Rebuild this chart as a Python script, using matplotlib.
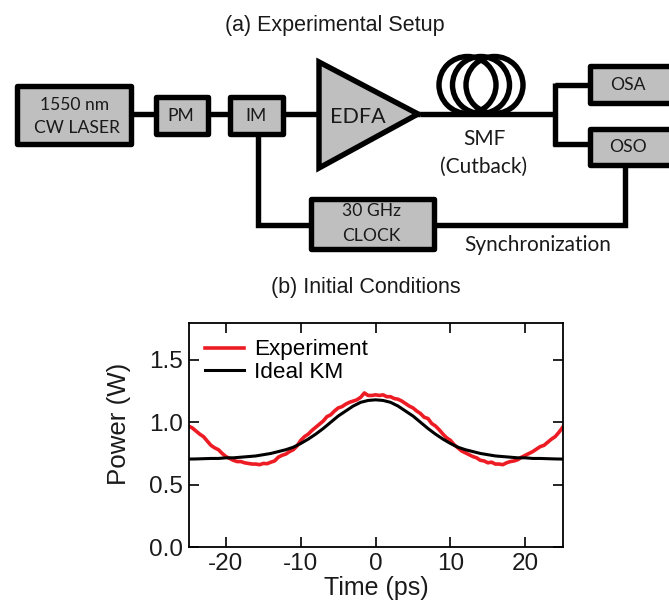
import matplotlib
matplotlib.use('Agg')
import matplotlib.pyplot as plt
from matplotlib.patches import Rectangle, Polygon, Circle

# (b) curves
t_exp = [-25 + 0.5 * i for i in range(101)]
p_exp = [0.97, 0.955, 0.93, 0.905, 0.885, 0.85, 0.815, 0.795, 0.78, 0.75,
         0.725, 0.71, 0.695, 0.685, 0.685, 0.675, 0.67, 0.665, 0.665, 0.66,
         0.67, 0.668, 0.68, 0.69, 0.72, 0.735, 0.745, 0.765, 0.78, 0.81,
         0.855, 0.885, 0.905, 0.935, 0.96, 0.985, 1.01, 1.045, 1.06, 1.09,
         1.115, 1.125, 1.145, 1.16, 1.17, 1.18, 1.2, 1.235, 1.215, 1.215,
         1.22,
         1.215, 1.22, 1.205, 1.205, 1.19, 1.185, 1.17, 1.15, 1.13, 1.115,
         1.09, 1.07, 1.04, 1.03, 0.99, 0.97, 0.94, 0.905, 0.875, 0.855,
         0.82, 0.795, 0.77, 0.755, 0.74, 0.725, 0.715, 0.695, 0.69, 0.675,
         0.68, 0.665, 0.665, 0.66, 0.675, 0.685, 0.69, 0.7, 0.72, 0.735,
         0.75, 0.765, 0.785, 0.805, 0.815, 0.84, 0.865, 0.885, 0.92, 0.96]
t_km = list(range(-25, 26))
p_km = [0.705, 0.706, 0.708, 0.71, 0.71, 0.715, 0.715, 0.72, 0.725, 0.73,
        0.74, 0.75, 0.765, 0.78, 0.80, 0.83, 0.865, 0.905, 0.95, 1.0,
        1.05, 1.09, 1.13, 1.16, 1.175,
        1.18,
        1.175, 1.16, 1.13, 1.09, 1.05, 1.0, 0.95, 0.905, 0.865, 0.83,
        0.80, 0.78, 0.765, 0.75, 0.74, 0.73, 0.725, 0.72, 0.715, 0.715,
        0.71, 0.71, 0.708, 0.706, 0.705]
x_ticks = [-20, -10, 0, 10, 20]
y_ticks = [0.0, 0.5, 1.0, 1.5]

W, H = 669, 600
sans = ['Liberation Sans', 'DejaVu Sans']
gray = '#bfbfbf'
ink = '#1a1a1a'

fig = plt.figure(figsize=(W / 100, H / 100), dpi=100)

# plot axes
ax = fig.add_axes([188.5 / W, 1 - 547 / H, 374.2 / W, 224.5 / H])
ax.plot(t_exp, p_exp, color='#ed1c24', lw=2.6, label='Experiment')
ax.plot(t_km, p_km, color='black', lw=2.2, label='Ideal KM')
ax.set_xlim(-25, 25)
ax.set_ylim(0, 1.8)
ax.set_xticks(x_ticks)
ax.set_xticklabels(['-20', '-10', '0', '10', '20'], family=sans, fontsize=17.5, color=ink)
ax.set_yticks(y_ticks)
ax.set_yticklabels(['0.0', '0.5', '1.0', '1.5'], family=sans, fontsize=17.5, color=ink)
ax.tick_params(direction='in', top=True, right=True, length=7, width=1.2)
ax.tick_params(axis='y', pad=4)
ax.tick_params(axis='x', pad=4)
for s in ax.spines.values():
    s.set_linewidth(1.3)
ax.legend(loc='upper left', bbox_to_anchor=(0.0, 1.0), frameon=False,
          prop={'family': sans, 'size': 16.2}, handlelength=1.7, handletextpad=0.45,
          labelspacing=0.05, borderpad=0.25, borderaxespad=0.5)

# setup diagram, drawn in pixel coordinates
d = fig.add_axes([0, 0, 1, 1], zorder=3)
d.set_xlim(0, W)
d.set_ylim(H, 0)
d.axis('off')
d.patch.set_alpha(0)

LW = 3.9

def wire(xs, ys):
    d.plot(xs, ys, color='black', lw=LW, solid_capstyle='butt', solid_joinstyle='miter', zorder=1)

def box(x0, y0, x1, y1):
    d.add_patch(Rectangle((x0 + 2.5, y0 + 2.5), x1 - x0 - 5, y1 - y0 - 5, fc=gray, ec='black', lw=LW,
                          joinstyle='round', zorder=2))

def label(x, y, s, size=12.6):
    d.text(x, y, s, ha='center', va='center', fontsize=size, family=['Lato', 'DejaVu Sans'], color=ink, zorder=4)

# wires first, boxes on top
wire([133, 420], [114, 114])
wire([420, 555], [114, 114])
wire([555, 590], [85, 85])
wire([555, 555], [83, 146])
wire([553, 590], [143.5, 143.5])
wire([258, 258, 310], [133, 225, 225])
wire([433, 625, 625], [225, 225, 165])

for cx in [467.5, 481, 494.5]:
    d.add_patch(Circle((cx, 85), 28.5, fc='none', ec='black', lw=LW, zorder=1))

box(14, 83, 133, 146)
box(153, 94, 210, 136)
box(227, 94, 285, 136)
box(308, 196, 436, 251)
box(587, 63, 680, 105)
box(587, 126, 680, 167)
d.add_patch(Polygon([[319, 62], [319, 168], [418, 114]], closed=True, fc=gray, ec='black', lw=LW,
                    joinstyle='miter', zorder=2))

label(75, 105, '1550 nm')
label(77, 128, 'CW LASER')
label(181, 116, 'PM')
label(256, 116, 'IM')
label(358, 117, 'EDFA', 15.5)
label(484, 139, 'SMF', 15)
label(484, 167, '(Cutback)', 15)
label(371, 211, '30 GHz')
label(371, 236, 'CLOCK')
label(628, 85, 'OSA')
label(628, 147, 'OSO')
label(538, 245, 'Synchronization', 15)

# titles and axis labels
d.text(335, 25, '(a) Experimental Setup', ha='center', va='center', fontsize=15.5, family=sans, color=ink)
d.text(366, 288, '(b) Initial Conditions', ha='center', va='center', fontsize=15.5, family=sans, color=ink)
d.text(376, 588.5, 'Time (ps)', ha='center', va='center', fontsize=18, family=sans, color=ink)
d.text(119, 424, 'Power (W)', ha='center', va='center', rotation=90, fontsize=18.6, family=sans, color=ink)

fig.savefig('out.png', dpi=100)
